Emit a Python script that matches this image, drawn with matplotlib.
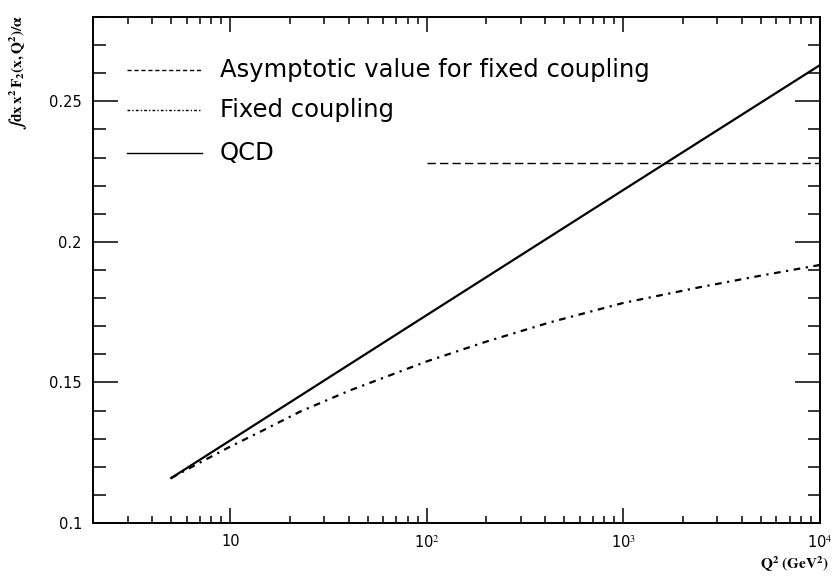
import matplotlib
matplotlib.use('Agg')
import matplotlib.pyplot as plt
from matplotlib.ticker import FixedLocator, NullFormatter

plt.rcParams['mathtext.fontset'] = 'stix'

# valores
q2_qcd = [5, 10, 100, 1000, 10000]
f_qcd = [0.116, 0.1294, 0.1740, 0.2185, 0.2629]

q2_fixed = [5, 7, 10, 15, 22.6, 40, 100, 200, 424, 1000, 2456, 5000, 10000]
f_fixed = [0.116, 0.1215, 0.1272, 0.1333, 0.1396, 0.1470, 0.1575, 0.1645,
           0.1714, 0.1783, 0.1839, 0.1880, 0.1918]

q2_asym = [100, 10000]
f_asym = [0.2279, 0.2279]

fig = plt.figure(figsize=(8.35, 5.81), dpi=100)
ax = fig.add_axes([93/835, 1 - 523/581, (820-93)/835, (523-17)/581])

ax.plot(q2_qcd, f_qcd, color='black', lw=1.6)
ax.plot(q2_fixed, f_fixed, color='black', lw=1.6, dashes=(3, 2.5, 1, 2.5))
ax.plot(q2_asym, f_asym, color='black', lw=1.0, dashes=(6, 3))

ax.set_xscale('log')
ax.set_xlim(2, 1e4)
ax.set_ylim(0.1, 0.28)

ax.xaxis.set_major_locator(FixedLocator([10, 100, 1000, 10000]))
minors = [m * 10**e for e in range(0, 4) for m in range(2, 10)]
ax.xaxis.set_minor_locator(FixedLocator([v for v in minors if 2 <= v <= 1e4]))
ax.xaxis.set_minor_formatter(NullFormatter())
ax.set_xticklabels(['10', r'10$^2$', r'10$^3$', r'10$^4$'])

ax.yaxis.set_major_locator(FixedLocator([0.1, 0.15, 0.2, 0.25]))
ax.yaxis.set_minor_locator(FixedLocator([0.1 + 0.01*i for i in range(19)]))
ax.set_yticklabels(['0.1', '0.15', '0.2', '0.25'])

ax.tick_params(axis='both', which='both', direction='in', top=True, right=True,
               width=1.1, labelsize=10.5, pad=8)
ax.tick_params(axis='y', which='major', length=18)
ax.tick_params(axis='y', which='minor', length=9)
ax.tick_params(axis='x', which='major', length=11)
ax.tick_params(axis='x', which='minor', length=5)
for s in ax.spines.values():
    s.set_linewidth(1.4)

# leyenda manual
filas = [(70, 'Asymptotic value for fixed coupling', dict(lw=1.0, dashes=(3, 2))),
         (110, 'Fixed coupling', dict(lw=1.0, dashes=(2, 1.5, 1, 1.5))),
         (153, 'QCD', dict(lw=1.0))]
for py, txt, st in filas:
    fy = 1 - py/581
    fig.add_artist(plt.Line2D([127/835, 202/835], [fy, fy], color='black', **st))
    fig.text(220/835, fy, txt, fontsize=17.5, va='center', ha='left')

fig.text(0.022, 0.975, r'$\mathbf{\int dx\, x^2\, F_2(x,Q^2)/\alpha}$', rotation=90,
         fontsize=11, va='top', ha='center')
fig.text(0.993, 0.012, r'$\mathbf{Q^2\ (GeV^2)}$', fontsize=11, ha='right',
         va='bottom')

fig.savefig('out.png', dpi=100)
